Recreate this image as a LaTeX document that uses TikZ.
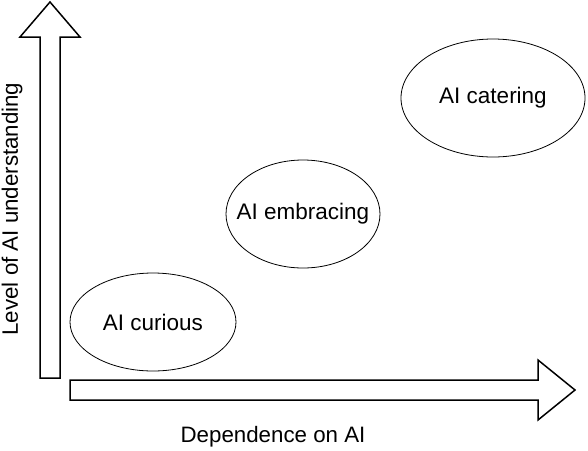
\documentclass[tikz,border=0pt]{standalone}
\usepackage{fontspec}
\setmainfont{Liberation Sans}

\tikzset{
  stage/.style={inner sep=0pt, font=\fontsize{22.5}{27}\selectfont},
  stagering/.style={draw, thick},
  axisarrow/.style={draw, line width=1.5pt, fill=white},
  axislabel/.style={font=\fontsize{22.3}{27}\selectfont}
}

\begin{document}
\begin{tikzpicture}[x=1pt, y=-1pt]
\useasboundingbox (0,0) rectangle (588,450);

% the two axes
\draw [axisarrow] 
(40,378)--(40,37)--(20,37)--(50,2)--(80,37)--(60,37)--(60,378)--cycle;
\draw [axisarrow] 
(70,400)--(70,380)--(538,380)--(538,360)--(575,390)--(538,420)--(538,400)--cycle;

\node [axislabel, rotate=90] (level) at (12,209) {Level of AI understanding};
\node [axislabel] (dependence) at (273,437) {Dependence on AI};


% the three stages
\node [stage] (curious) at (153,322) {AI curious};
\draw [stagering] (curious.center) ellipse [x radius=83pt, y radius=49pt];

\node [stage] (embracing) at (303,214) {AI embracing};
\draw [stagering] (embracing.center) ellipse [x radius=77pt, y radius=54pt];

\node [stage] (catering) at (493,98) {AI catering};
\draw [stagering] (catering.center) ellipse [x radius=92pt, y radius=59pt];

\end{tikzpicture}
\end{document}
